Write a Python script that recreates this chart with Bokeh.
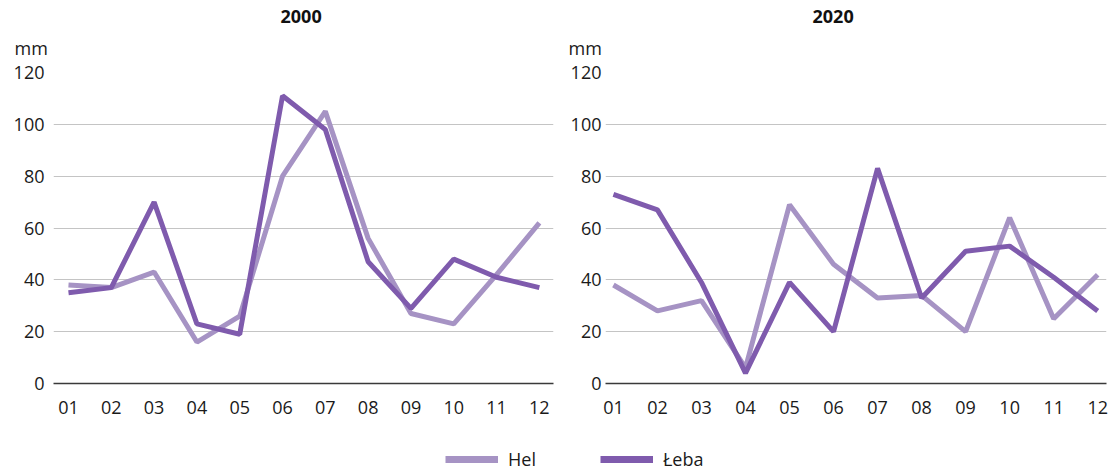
from bokeh.plotting import figure
from bokeh.layouts import column, row
from bokeh.models import Range1d, FixedTicker, Title, Legend, LegendItem
from bokeh.embed import file_html
from bokeh.resources import INLINE

months = [1, 2, 3, 4, 5, 6, 7, 8, 9, 10, 11, 12]
month_labels = ["01", "02", "03", "04", "05", "06", "07", "08", "09", "10", "11", "12"]
y_ticks = [0, 20, 40, 60, 80, 100, 120]

hel_2000 = [38, 37, 43, 16, 26, 80, 105, 56, 27, 23, 42, 62]
leba_2000 = [35, 37, 70, 23, 19, 111, 98, 47, 29, 48, 41, 37]
hel_2020 = [38, 28, 32, 6, 69, 46, 33, 34, 20, 64, 25, 42]
leba_2020 = [73, 67, 39, 4, 39, 20, 83, 33, 51, 53, 41, 28]

series_names = ["Hel", "Łeba"]
HEL_COLOR = "#a693c4"
LEBA_COLOR = "#7f5bad"
FONT = "Open Sans"


def make_panel(title, hel, leba, x_start, x_end, border_left, frame_w,
               border_right, standoff, title_offset, mm_offset):
    p = figure(frame_width=frame_w, frame_height=311,
               min_border_left=border_left, min_border_right=border_right,
               min_border_top=72, min_border_bottom=47,
               x_range=Range1d(x_start, x_end), y_range=Range1d(0, 120),
               output_backend="svg", toolbar_location=None, tools="")
    p.outline_line_color = None
    p.background_fill_color = "white"
    p.border_fill_color = "white"

    p.line(months, hel, line_color=HEL_COLOR, line_width=5)
    p.line(months, leba, line_color=LEBA_COLOR, line_width=5)

    p.xgrid.visible = False
    p.ygrid.ticker = FixedTicker(ticks=y_ticks)
    p.ygrid.grid_line_color = "#c4c4c4"
    p.ygrid.grid_line_width = 1

    p.yaxis.ticker = FixedTicker(ticks=y_ticks)
    p.yaxis.axis_line_color = None
    p.yaxis.major_tick_line_color = None
    p.yaxis.minor_tick_line_color = None
    p.yaxis.major_tick_out = 0
    p.yaxis.major_label_standoff = standoff
    p.yaxis.major_label_text_font = FONT
    p.yaxis.major_label_text_font_size = "18px"
    p.yaxis.major_label_text_color = "#1a1a1a"

    p.xaxis.ticker = FixedTicker(ticks=months)
    p.xaxis.major_label_overrides = {m: lab for m, lab in zip(months, month_labels)}
    p.xaxis.axis_line_color = "#3a3a3a"
    p.xaxis.axis_line_width = 1.5
    p.xaxis.major_tick_line_color = None
    p.xaxis.minor_tick_line_color = None
    p.xaxis.major_tick_out = 0
    p.xaxis.major_tick_in = 0
    p.xaxis.major_label_standoff = 17
    p.xaxis.major_label_text_font = FONT
    p.xaxis.major_label_text_font_size = "18px"
    p.xaxis.major_label_text_color = "#1a1a1a"

    p.add_layout(Title(text="mm", align="left", offset=mm_offset, standoff=26,
                       text_font=FONT, text_font_style="normal",
                       text_font_size="18px", text_color="#1a1a1a"), "above")
    p.add_layout(Title(text=title, align="left", offset=title_offset, standoff=-4,
                       text_font=FONT, text_font_style="bold",
                       text_font_size="18px", text_color="#111111"), "above")
    return p


p1 = make_panel("2000", hel_2000, leba_2000, 0.65, 12.33, 53, 500, 5, 9, 227, -39)
p2 = make_panel("2020", hel_2020, leba_2020, 0.82, 12.2, 47, 501, 3, 4, 207, -37)

leg = figure(width=1109, height=42, x_range=Range1d(20, 21), y_range=Range1d(0, 1),
             output_backend="svg", toolbar_location=None, tools="",
             min_border=0)
leg.axis.visible = False
leg.grid.visible = False
leg.outline_line_color = None
r_hel = leg.line(months, hel_2000, line_color=HEL_COLOR, line_width=7)
r_leba = leg.line(months, leba_2000, line_color=LEBA_COLOR, line_width=7)
legend = Legend(items=[LegendItem(label=series_names[0], renderers=[r_hel]),
                       LegendItem(label=series_names[1], renderers=[r_leba])],
                orientation="horizontal", location=(445, 1),
                glyph_width=53, glyph_height=20, label_standoff=10,
                spacing=64, padding=0, margin=0,
                border_line_color=None, background_fill_alpha=0,
                label_text_font=FONT, label_text_font_size="18px",
                label_text_color="#1a1a1a")
leg.add_layout(legend, "center")

layout = column(row(p1, p2, spacing=0), leg, spacing=0)

with open("out.html", "w") as f:
    f.write(file_html(layout, INLINE))
